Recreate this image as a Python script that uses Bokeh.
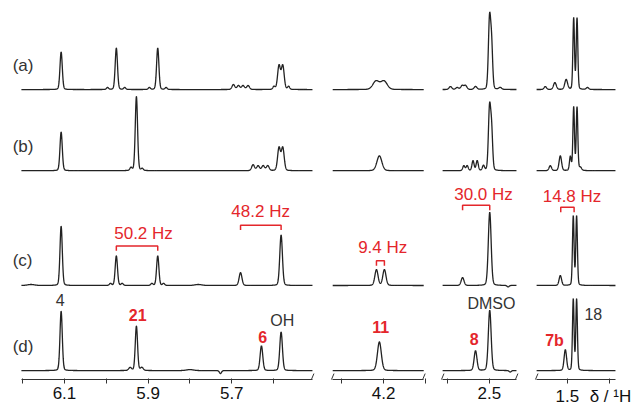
import numpy as np
from bokeh.plotting import figure
from bokeh.layouts import row
from bokeh.models import (Range1d, FixedTicker, PrintfTickFormatter, Label,
                          CustomJSTickFormatter)
from bokeh.embed import file_html
from bokeh.resources import INLINE

# ---------------- data (ppm, peak heights in px-like units) ----------------
# axis segments of the broken delta axis (high -> low ppm)
SEG_AXIS = [(6.203, 5.507), (4.322, 4.104), (2.612, 2.435), (1.574, 1.385)]
SEG_VIEW = [(6.253, 5.483), (4.346, 4.083), (2.636, 2.411), (1.598, 1.337)]
MAJOR_TICKS = [[6.1, 5.9, 5.7], [4.2], [2.5], [1.5]]
MINOR_TICKS = [[6.2, 6.0, 5.8, 5.6], [4.3, 4.1], [2.6, 2.4], [1.5, 1.4]]
AXIS_TITLE = "δ / ¹H"
AXIS_TITLE_AT = 1.397

# spectrum (a)
A_PPM = [6.108, 5.997, 5.976, 5.956, 5.897, 5.877, 5.857, 5.696, 5.684, 5.673, 5.661,
         5.599, 5.587, 5.578, 5.564,
         4.218, 4.199,
         2.593, 2.577, 2.565, 2.557, 2.533, 2.4995, 2.4945, 2.474,
         1.553, 1.530, 1.503, 1.485, 1.477, 1.452]
A_HT = [38, 2, 42, 2, 2, 42, 2, 5, 4, 4, 4,
        3, 24, 24, 3,
        8.5, 8.5,
        3, 2, 4, 4, 3, 70, 42, 2,
        3, 7, 10, 72, 72, 2]
A_FW = [0.0065, 0.006, 0.0065, 0.006, 0.006, 0.0065, 0.006, 0.008, 0.008, 0.008, 0.008,
        0.006, 0.008, 0.008, 0.006,
        0.018, 0.018,
        0.008, 0.008, 0.008, 0.008, 0.008, 0.0065, 0.006, 0.008,
        0.007, 0.008, 0.008, 0.0045, 0.0045, 0.007]

# spectrum (b)
B_PPM = [6.108, 5.941, 5.928, 5.914, 5.649, 5.637, 5.625, 5.614, 5.587, 5.578,
         4.210,
         2.561, 2.553, 2.539, 2.529, 2.514, 2.4995, 2.4945,
         1.541, 1.517, 1.493, 1.485, 1.477, 1.469]
B_HT = [39, 3, 75, 2, 6, 5, 5, 5, 23, 23,
        15,
        5, 5, 10, 10, 5, 62, 38,
        5, 15, 14, 64, 64, 3]
B_FW = [0.0065, 0.006, 0.0065, 0.006, 0.008, 0.008, 0.008, 0.008, 0.008, 0.008,
        0.014,
        0.006, 0.006, 0.006, 0.006, 0.006, 0.0065, 0.006,
        0.007, 0.007, 0.005, 0.0045, 0.0045, 0.007]

# spectrum (c)
C_PPM = [6.180, 6.108, 5.990, 5.976, 5.962, 5.891, 5.877, 5.863, 5.780, 5.679, 5.582,
         4.217, 4.198,
         2.564, 2.499, 2.455,
         1.517, 1.486, 1.478]
C_HT = [1, 60, 2, 30, 2, 2, 30, 2, 1, 13, 51,
        16, 16,
        8, 74, -1.5,
        10, 70, 70]
C_FW = [0.02, 0.0065, 0.006, 0.0065, 0.006, 0.006, 0.0065, 0.006, 0.02, 0.008, 0.0075,
        0.009, 0.009,
        0.008, 0.008, 0.006,
        0.007, 0.0045, 0.0045]

# spectrum (d)
D_PPM = [6.108, 5.943, 5.928, 5.915, 5.800, 5.727, 5.629, 5.582,
         4.210,
         2.533, 2.499, 2.450,
         1.505, 1.486, 1.478]
D_HT = [60, 3, 45, 3, 1, -3, 25, 39,
        29,
        20, 61, -1.5,
        21, 72, 72]
D_FW = [0.0065, 0.008, 0.0065, 0.008, 0.02, 0.006, 0.0075, 0.0075,
        0.011,
        0.008, 0.008, 0.006,
        0.007, 0.0045, 0.0045]

SPECTRA = [("(a)", A_PPM, A_HT, A_FW, 318),
           ("(b)", B_PPM, B_HT, B_FW, 236),
           ("(c)", C_PPM, C_HT, C_FW, 120),
           ("(d)", D_PPM, D_HT, D_FW, 34)]

# coupling brackets: (panel, ppm1, ppm2, y, label, label_x, label_y)
BRACKETS = [(0, 5.976, 5.877, 160, "50.2 Hz", 5.911, 173),
            (0, 5.679, 5.582, 181, "48.2 Hz", 5.631, 195),
            (1, 4.217, 4.198, 145, "9.4 Hz", 4.202, 158),
            (2, 2.564, 2.499, 201, "30.0 Hz", 2.514, 212),
            (3, 1.516, 1.484, 199, "14.8 Hz", 1.489, 210)]

# peak assignments: (panel, text, ppm, y, red/bold)
ASSIGN = [(0, "4", 6.110, 105, False), (0, "21", 5.925, 90, True),
          (0, "6", 5.626, 68, True), (0, "OH", 5.579, 85, False),
          (1, "11", 4.207, 78, True),
          (2, "8", 2.536, 66, True), (2, "DMSO", 2.495, 102, False),
          (3, "7b", 1.531, 64, True), (3, "18", 1.438, 91, False)]

LABEL_Y = [342, 260, 145, 58]

# ---------------- styling ----------------
FONT = "Liberation Sans"
RED = "#e4262b"
INK = "#222222"
GREY = "#333333"
WIDTHS = [322, 110, 94, 109]
Y0, Y1 = 25, 408


def lineshape(x, ppm, ht, fw):
    y = np.zeros_like(x)
    for c, h, w in zip(ppm, ht, fw):
        d = (x - c) / w
        y += h * (0.85 * np.exp(-4 * np.log(2) * d * d) + 0.15 / (1 + 4 * d * d))
    return y


figs = []
for i in range(4):
    p = figure(width=WIDTHS[i], height=408, x_range=Range1d(*SEG_VIEW[i]),
               y_range=Range1d(Y0, Y1), y_axis_location=None,
               output_backend="svg", toolbar_location=None,
               min_border_left=0, min_border_right=0, min_border_top=0,
               min_border_bottom=25)
    p.grid.visible = False
    p.outline_line_color = None
    ax = p.xaxis[0]
    hi, lo = SEG_AXIS[i]
    ax.bounds = (lo, hi)
    ax.axis_line_color = GREY
    ax.major_tick_line_color = GREY
    ax.minor_tick_line_color = GREY
    ax.major_tick_in = 1
    ax.major_tick_out = 4
    ax.minor_tick_in = 1
    ax.minor_tick_out = 4
    ax.major_label_standoff = 3
    ax.major_label_text_font = FONT
    ax.major_label_text_font_size = "17px"
    ax.major_label_text_color = "#111111"
    if i == 3:
        # last segment also carries the axis title as an extra (tick-less) label
        ax.ticker = FixedTicker(ticks=MAJOR_TICKS[i] + [AXIS_TITLE_AT],
                                minor_ticks=MINOR_TICKS[i])
        ax.major_tick_line_color = None
        ax.formatter = CustomJSTickFormatter(
            args=dict(at=AXIS_TITLE_AT, title=AXIS_TITLE),
            code="return Math.abs(tick - at) < 1e-6 ? title : tick.toFixed(1);")
    else:
        ax.ticker = FixedTicker(ticks=MAJOR_TICKS[i], minor_ticks=MINOR_TICKS[i])
        ax.formatter = PrintfTickFormatter(format="%.1f")

    x = np.arange(lo, hi, 0.0004)
    for name, ppm, ht, fw, base in SPECTRA:
        p.line(x, base + lineshape(x, ppm, ht, fw), line_color=INK, line_width=1.3)

    # axis break marks
    s = 0.0035
    ends = []
    if i > 0:
        ends.append(hi)
    if i < 3:
        ends.append(lo)
    for e in ends:
        p.segment(x0=[e + s], y0=[Y0 - 1], x1=[e - s], y1=[Y0 + 6],
                  line_color=GREY, line_width=1)
    figs.append(p)

# spectrum labels
for (name, *_rest), ly in zip(SPECTRA, LABEL_Y):
    figs[0].add_layout(Label(x=6.224, y=ly, text=name, text_align="left",
                             text_baseline="middle", text_font=FONT,
                             text_font_size="17px", text_color=GREY))

# brackets with coupling constants
for pi, a, b, yb, txt, tx, ty in BRACKETS:
    p = figs[pi]
    p.line([a, a, b, b], [yb - 5, yb, yb, yb - 5], line_color=RED, line_width=1.5)
    p.add_layout(Label(x=tx, y=ty, text=txt, text_align="center",
                       text_baseline="middle", text_font=FONT,
                       text_font_size="17px", text_color=RED))

# assignments
for pi, txt, xx, yy, red in ASSIGN:
    figs[pi].add_layout(Label(x=xx, y=yy, text=txt, text_align="center",
                              text_baseline="middle", text_font=FONT,
                              text_font_size="16px",
                              text_color=RED if red else GREY,
                              text_font_style="bold" if red else "normal"))

layout = row(*figs, spacing=0)
open("out.html", "w").write(file_html(layout, INLINE))
